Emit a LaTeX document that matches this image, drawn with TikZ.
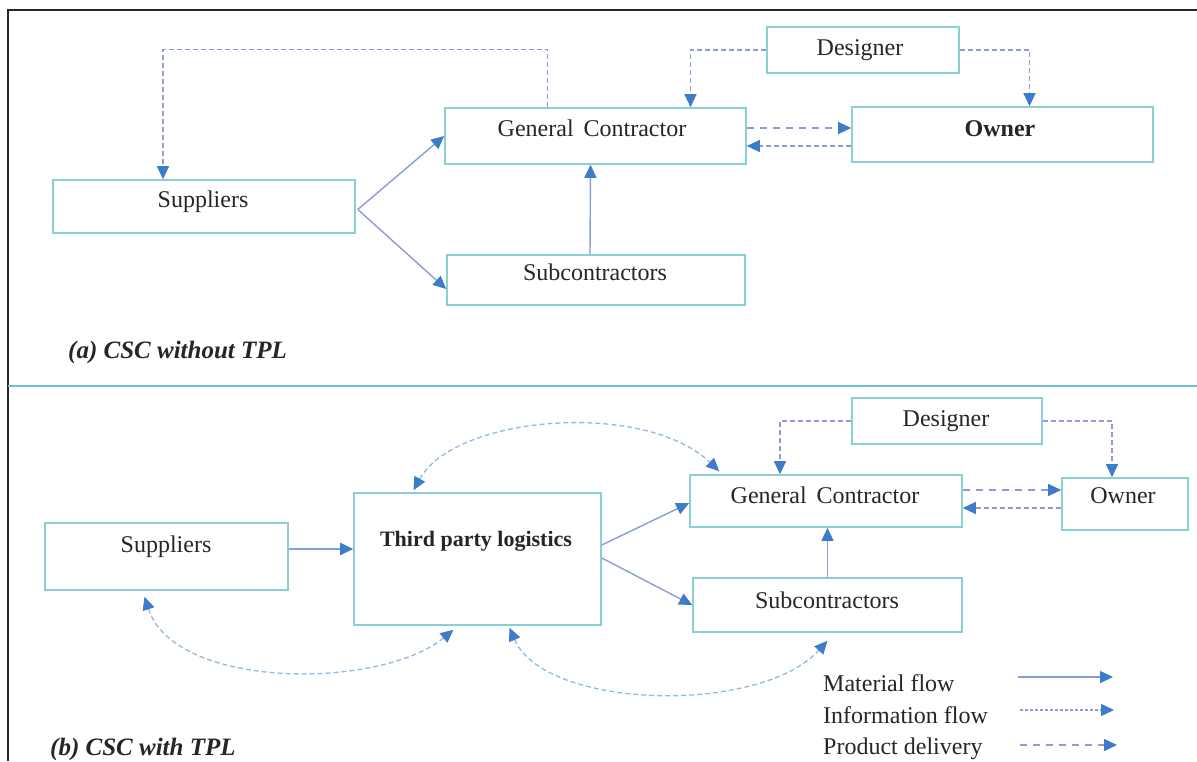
\documentclass[tikz,border=0pt]{standalone}
\usepackage{fontspec}
\setmainfont{Liberation Serif}
\usetikzlibrary{arrows.meta,calc}
\definecolor{boxc}{HTML}{88D0D6}
\definecolor{sepc}{HTML}{6CC0D2}
\definecolor{linec}{HTML}{8C9CD8}
\definecolor{curvec}{HTML}{8FBBE2}
\definecolor{tipc}{HTML}{3C7CCB}
\begin{document}
\begin{tikzpicture}[x=1pt,y=-1pt,
  box/.style={draw=boxc,line width=1.6pt,inner sep=0pt},
  txt/.style={font=\fontsize{24}{28}\selectfont,inner sep=0pt,anchor=base,text=black!85},
  ttl/.style={font=\fontsize{25}{29}\selectfont\bfseries\itshape,inner sep=0pt,anchor=base west,text=black!85},
  tipend/.style={-{Triangle[length=13pt,width=12pt,color=tipc]}},
  tipboth/.style={{Triangle[length=13pt,width=12pt,color=tipc]}-{Triangle[length=13pt,width=12pt,color=tipc]}},
  matf/.style={draw=linec,line width=1.4pt,tipend},
  info/.style={draw=linec,line width=1.3pt,dash pattern=on 5pt off 3pt,tipend},
  prod/.style={draw=linec,line width=1.3pt,dash pattern=on 7pt off 6pt,tipend},
  curv/.style={draw=curvec,line width=1.3pt,dash pattern=on 5pt off 3pt,tipboth},
]
\useasboundingbox (0,0) rectangle (1197,761);
\fill[white] (0,0) rectangle (1197,761);
% frame
\draw[line width=2.5pt,black!85] (8,761) -- (8,10) -- (1197,10);
\draw[line width=2.5pt,sepc] (8,386) -- (1197,386);

% ---------- (a) ----------
\node[box,minimum width=192pt,minimum height=46pt] (designerA) at (863,50) {};
\node[box,minimum width=301pt,minimum height=56pt] (gcA) at (595.5,136) {};
\node[box,minimum width=301pt,minimum height=55pt] (ownerA) at (1002.5,134.5) {};
\node[box,minimum width=302pt,minimum height=53pt] (supA) at (204,206.5) {};
\node[box,minimum width=298pt,minimum height=50pt] (subA) at (596,280) {};

\node[txt] (designerAt) at (860,55) {Designer};
\node[txt] (gcAt) at (592,136) {General\, Contractor};
\node[txt,font=\fontsize{24}{28}\selectfont\bfseries] (ownerAt) at (1000,136) {Owner};
\node[txt] (supAt) at (203,207) {Suppliers};
\node[txt] (subAt) at (595,280) {Subcontractors};
\node[ttl] (labA) at (68,358) {(a) CSC without TPL};

\draw[matf] ($(supA.east)+(2,3)$) -- (gcA.west);
\draw[matf] ($(supA.east)+(2,3)$) -- ($(subA.west)+(0,9)$);
\draw[matf] ($(subA.north)+(-6,0)$) -- ($(gcA.south)+(-5,0)$);
\draw[info] ($(gcA.north)+(-48,0)$) -- ++(0,-58) -| ($(supA.north)+(-41,0)$);
\draw[info] (designerA.west) -| ($(gcA.north)+(95,0)$);
\draw[info] (designerA.east) -| ($(ownerA.north)+(27,0)$);
\coordinate (pa1) at ($(gcA.east)+(0,-8)$);
\draw[prod] (pa1) -- (ownerA.west |- pa1);
\coordinate (pa2) at ($(ownerA.west)+(0,11.5)$);
\draw[info] (pa2) -- (gcA.east |- pa2);

% ---------- (b) ----------
\node[box,minimum width=190pt,minimum height=46pt] (designerB) at (947,421) {};
\node[box,minimum width=272pt,minimum height=52pt] (gcB) at (826,501) {};
\node[box,minimum width=126pt,minimum height=52pt] (ownerB) at (1125,504) {};
\node[box,minimum width=243pt,minimum height=67pt] (supB) at (166.5,556.5) {};
\node[box,minimum width=247pt,minimum height=132pt] (tplB) at (477.5,559) {};
\node[box,minimum width=269pt,minimum height=54pt] (subB) at (827.5,605) {};

\node[txt] (designerBt) at (946,426) {Designer};
\node[txt] (gcBt) at (825,503) {General\, Contractor};
\node[txt] (ownerBt) at (1123,503) {Owner};
\node[txt] (supBt) at (166,552) {Suppliers};
\node[txt,font=\fontsize{22}{26}\selectfont\bfseries] (tplBt) at (476,546) {Third party logistics};
\node[txt] (subBt) at (827,608) {Subcontractors};
\node[ttl] (labB) at (50,755) {(b) CSC with TPL};

\draw[info] (designerB.west) -| ($(gcB.north)+(-46,0)$);
\draw[info] (designerB.east) -| ($(ownerB.north)+(-13,0)$);
\coordinate (pb1) at ($(gcB.east)+(0,-11)$);
\draw[prod] (pb1) -- (ownerB.west |- pb1);
\coordinate (pb2) at ($(ownerB.west)+(0,4)$);
\draw[info] (pb2) -- (gcB.east |- pb2);
\draw[matf] (subB.north) -- (subB.north |- gcB.south);
\coordinate (pb3) at ($(supB.east)+(0,-7.5)$);
\draw[matf,line width=2pt] (pb3) -- (tplB.west |- pb3);
\draw[matf] ($(tplB.east)+(0,-14)$) -- ($(gcB.west)+(0,2)$);
\draw[matf] ($(tplB.east)+(0,-1)$) -- (subB.west);

\draw[curv] ($(tplB.north)+(-64,-2)$) .. controls (455,415) and (645,400) .. ($(gcB.north west)+(30,-3)$);
\draw[curv] ($(supB.south)+(-22,6)$) .. controls (175,690) and (380,690) .. ($(tplB.south)+(-24,4)$);
\draw[curv] ($(tplB.south)+(32,2)$) .. controls (545,710) and (760,715) .. ($(subB.south)+(0,8)$);

% ---------- legend ----------
\node[txt,anchor=base west] (lg1) at (823,691) {Material flow};
\node[txt,anchor=base west] (lg2) at (823,723) {Information flow};
\node[txt,anchor=base west] (lg3) at (823,754) {Product delivery};
\coordinate (l1a) at (1018,677); \coordinate (l1b) at (1113,677);
\coordinate (l2a) at (1020,710); \coordinate (l2b) at (1114,710);
\coordinate (l3a) at (1020,745); \coordinate (l3b) at (1117,745);
\draw[matf] (l1a) -- (l1b);
\draw[info,dash pattern=on 3pt off 2pt] (l2a) -- (l2b);
\draw[prod] (l3a) -- (l3b);
\end{tikzpicture}
\end{document}
